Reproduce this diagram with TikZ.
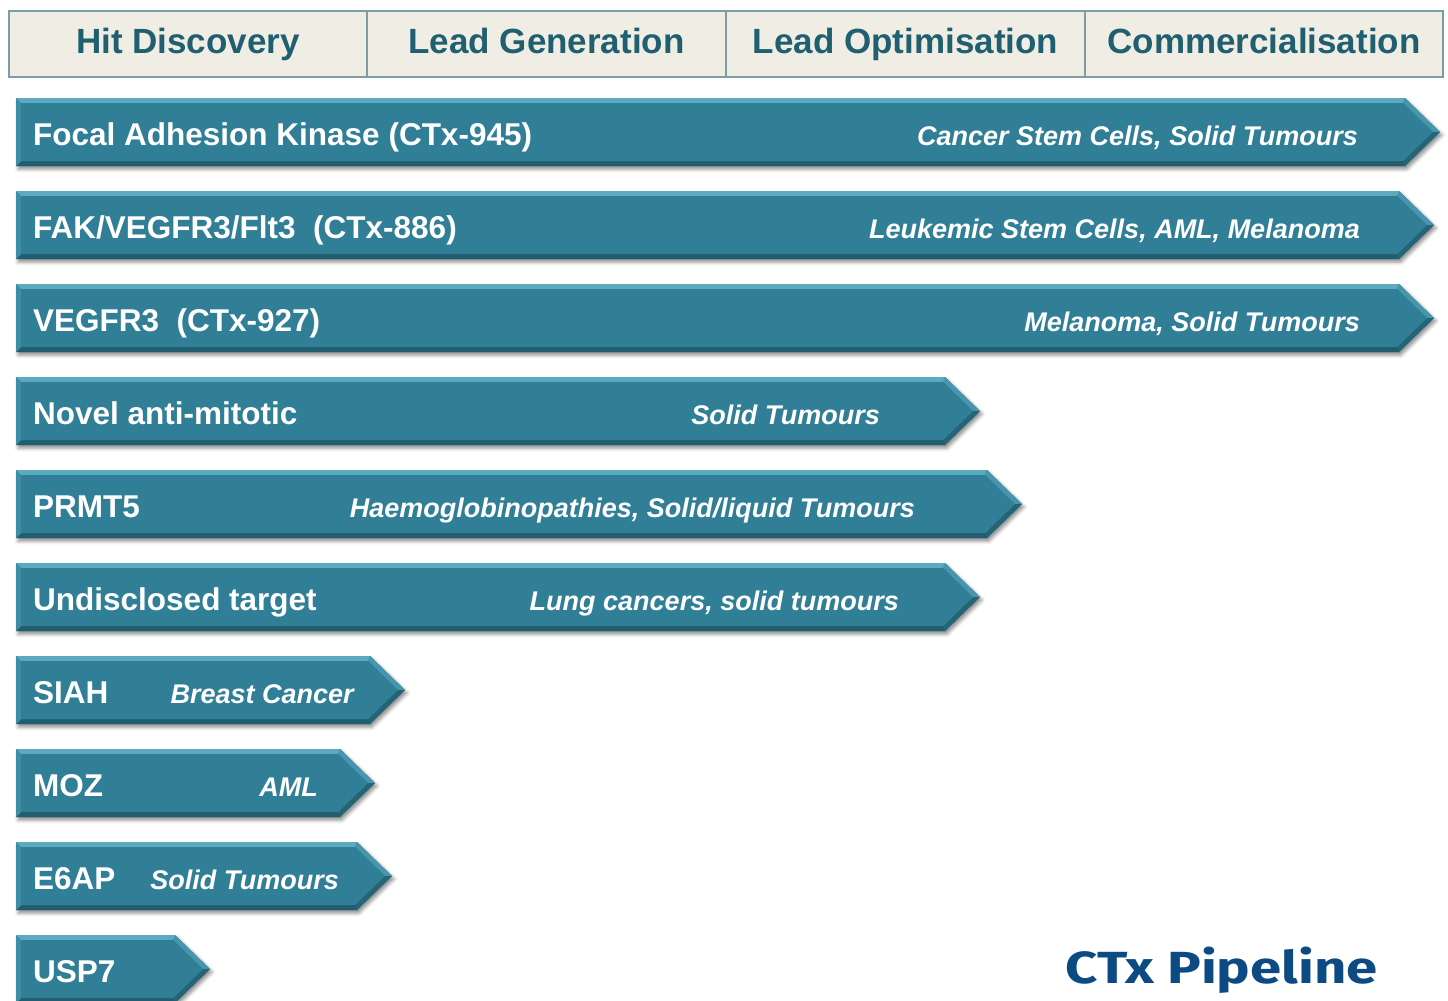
\documentclass[tikz,border=0pt]{standalone}
\usepackage{fontspec}
\setmainfont{Liberation Sans}
\newfontfamily\titlefont{Fira Sans}
\usetikzlibrary{shadows.blur}

\definecolor{hdrfill}{HTML}{EFEDE4}
\definecolor{hdrline}{HTML}{7A9DA6}
\definecolor{hdrtext}{HTML}{1F5F6F}
\definecolor{barmain}{HTML}{317F97}
\definecolor{bartop}{HTML}{5BAAC0}
\definecolor{barleft}{HTML}{3F8DA5}
\definecolor{barupper}{HTML}{4896AD}
\definecolor{barlower}{HTML}{256476}
\definecolor{barbottom}{HTML}{215D6E}
\definecolor{titleblue}{HTML}{0B4A82}

\tikzset{
  hdrbox/.style={fill=hdrfill, draw=hdrline, line width=1.6pt},
  hdrsep/.style={draw=hdrline, line width=1.6pt},
  hdrlabel/.style={text=hdrtext, inner sep=0pt, anchor=base,
    font=\fontsize{35}{35}\selectfont\bfseries},
  drug/.style={text=white, inner sep=0pt, anchor=base west,
    font=\fontsize{31.5}{31.5}\selectfont\bfseries},
  indication/.style={text=white, inner sep=0pt, anchor=base east,
    font=\fontsize{27}{27}\selectfont\bfseries\itshape},
  barshade/.style={fill=barmain, blur shadow={shadow xshift=2pt,
    shadow yshift=-3pt, shadow blur radius=3.5pt, shadow opacity=45}},
}

% #1 name, #2 top edge, #3 end of the straight body,
% #4 target, #5 indication, #6 right edge of the indication
\newcommand\pipebar[6]{%
  \begin{scope}[shift={(0,#2)}]
    \fill[barshade] (16,0) -- ({#3},0) -- ({#3+35},34) -- ({#3},68) -- (16,68) -- cycle;
    \fill[bartop] (16,0) -- ({#3},0) -- ({#3-2},5) -- (21,5) -- cycle;
    \fill[barupper] ({#3},0) -- ({#3+35},34) -- ({#3+28},34) -- ({#3-2},5) -- cycle;
    \fill[barlower] ({#3+35},34) -- ({#3},68) -- ({#3-2},63) -- ({#3+28},34) -- cycle;
    \fill[barbottom] ({#3},68) -- (16,68) -- (21,63) -- ({#3-2},63) -- cycle;
    \fill[barleft] (16,68) -- (16,0) -- (21,5) -- (21,63) -- cycle;
    \fill[barmain] (21,5) -- ({#3-2},5) -- ({#3+28},34) -- ({#3-2},63) -- (21,63) -- cycle;
    \coordinate (#1-tip) at ({#3+35},34);
    \node[drug] (#1-target) at (33,47) {#4};
    \node[indication] (#1-use) at ({#6},47) {#5};
  \end{scope}%
}

\begin{document}
\begin{tikzpicture}[x=1pt, y=-1pt]
  \useasboundingbox (0,0) rectangle (1448,1001);

  % stage header
  \draw[hdrbox] (9,11) rectangle (1443,77);
  \draw[hdrsep] (367,11) -- (367,77) (726,11) -- (726,77) (1085,11) -- (1085,77);
  \node[hdrlabel] (hit)  at (188,53)   {Hit Discovery};
  \node[hdrlabel] (gen)  at (546.5,53) {Lead Generation};
  \node[hdrlabel] (opt)  at (905.5,53) {Lead Optimisation};
  \node[hdrlabel] (comm) at (1264,53)  {Commercialisation};

  % programmes
  \pipebar{fak}{98}{1405}{Focal Adhesion Kinase (CTx-945)}{Cancer Stem Cells, Solid Tumours}{1358}
  \pipebar{fvf}{191}{1399}{FAK/VEGFR3/Flt3\ \ (CTx-886)}{Leukemic Stem Cells, AML, Melanoma}{1360}
  \pipebar{vegf}{284}{1399}{VEGFR3\ \ (CTx-927)}{Melanoma, Solid Tumours}{1360}
  \pipebar{mito}{377}{945}{Novel anti-mitotic}{Solid Tumours}{880}
  \pipebar{prmt}{470}{987}{PRMT5}{Haemoglobinopathies, Solid/liquid Tumours}{915}
  \pipebar{undis}{563}{945}{Undisclosed target}{Lung cancers, solid tumours}{899}
  \pipebar{siah}{656}{370}{SIAH}{Breast Cancer}{354}
  \pipebar{moz}{749}{340}{MOZ}{AML}{318}
  \pipebar{esix}{842}{357}{E6AP}{Solid Tumours}{339}
  \pipebar{usp}{935}{175}{USP7}{}{175}

  \node[text=titleblue, inner sep=0pt, anchor=base west,
    font=\titlefont\bfseries\fontsize{45}{45}\selectfont] (title) at (1065,983)
    {\scalebox{1.25}[1]{CTx Pipeline}};
\end{tikzpicture}
\end{document}
